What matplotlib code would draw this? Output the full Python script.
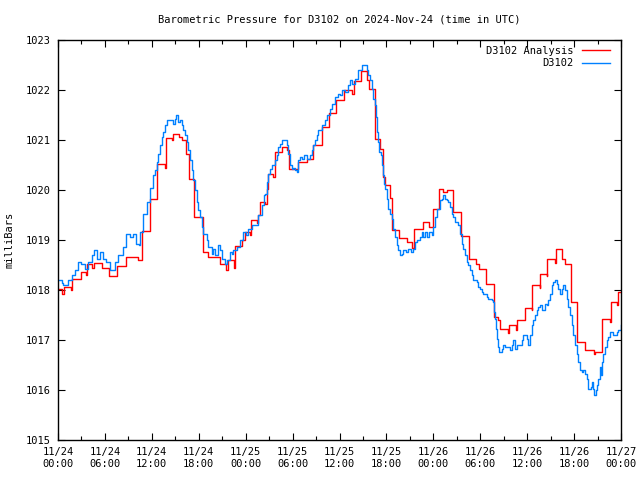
import matplotlib
matplotlib.use("Agg")
import matplotlib.pyplot as plt
from matplotlib.ticker import MultipleLocator, FixedLocator
import numpy as np

# ---- data (hours since 2024-11-24 00:00 UTC, pressure in mb) ----
analysis_hours = [0.0, 0.55, 0.75, 1.6, 1.75, 2.9, 3.55, 3.75, 4.4, 4.55, 5.6, 6.5, 7.5, 8.65,
                  10.25, 10.8, 11.8, 12.65, 13.65, 13.8, 14.6, 14.75, 15.5, 15.8, 16.4, 16.7,
                  17.4, 18.5, 19.2, 20.7, 21.5, 21.7, 22.45, 22.6, 23.5, 23.9, 24.5, 24.7,
                  25.4, 25.6, 25.8, 26.5, 26.7, 26.8, 27.55, 27.7, 28.6, 29.3, 29.5, 30.7,
                  31.8, 32.6, 33.7, 34.7, 35.6, 36.6, 37.55, 37.8, 38.7, 39.55, 39.8, 40.55,
                  41.2, 41.5, 41.8, 42.5, 42.7, 43.6, 44.6, 45.3, 45.5, 46.7, 47.5, 47.95,
                  48.7, 49.3, 49.7, 50.5, 51.5, 52.6, 53.5, 53.8, 54.7, 55.7, 56.3, 56.5,
                  57.5, 57.7, 58.6, 58.7, 59.7, 60.6, 60.65, 61.6, 61.7, 62.5, 62.6, 63.6,
                  63.7, 64.5, 64.8, 65.6, 66.4, 67.4, 68.5, 68.7, 69.6, 70.6, 70.7, 71.5,
                  71.65, 72.0]
analysis_mb = [1018.02, 1017.93, 1018.07, 1018.0, 1018.23, 1018.37, 1018.3, 1018.53, 1018.45,
               1018.55, 1018.45, 1018.28, 1018.48, 1018.67, 1018.6, 1019.18, 1019.82, 1020.52,
               1020.45, 1021.05, 1021.0, 1021.13, 1021.07, 1021.0, 1020.73, 1020.23, 1019.47,
               1018.77, 1018.67, 1018.53, 1018.4, 1018.6, 1018.45, 1018.88, 1019.0, 1019.17,
               1019.1, 1019.4, 1019.35, 1019.5, 1019.77, 1019.72, 1020.03, 1020.33, 1020.27,
               1020.77, 1020.87, 1020.8, 1020.43, 1020.57, 1020.62, 1020.9, 1021.27, 1021.55,
               1021.8, 1022.0, 1021.93, 1022.18, 1022.38, 1022.2, 1022.03, 1021.03, 1020.83,
               1020.27, 1020.1, 1019.85, 1019.2, 1019.05, 1018.97, 1018.85, 1019.22, 1019.37,
               1019.27, 1019.63, 1020.03, 1019.97, 1020.0, 1019.57, 1019.08, 1018.63, 1018.52,
               1018.42, 1018.13, 1017.47, 1017.4, 1017.23, 1017.15, 1017.3, 1017.2, 1017.4,
               1017.65, 1017.6, 1018.1, 1018.05, 1018.33, 1018.28, 1018.63, 1018.55, 1018.83,
               1018.63, 1018.53, 1017.77, 1016.97, 1016.8, 1016.72, 1016.77, 1017.43, 1017.37,
               1017.77, 1017.7, 1017.97, 1017.97]

station_hours = [0.0, 0.5, 0.7, 1.3, 1.8, 2.2, 2.6, 3.0, 3.4, 3.8, 4.3, 4.6, 5.0, 5.4, 5.8, 6.2,
                 6.6, 7.3, 7.7, 8.3, 8.7, 9.2, 9.6, 10.0, 10.3, 10.5, 10.9, 11.4, 11.8, 12.1,
                 12.4, 12.7, 12.8, 13.0, 13.3, 13.4, 13.7, 14.0, 14.6, 14.7, 15.0, 15.1, 15.4,
                 15.6, 15.8, 16.0, 16.2, 16.5, 16.6, 16.9, 17.1, 17.3, 17.5, 17.8, 17.9, 18.2,
                 18.4, 18.5, 19.0, 19.2, 19.7, 19.8, 20.1, 20.5, 20.7, 21.0, 21.4, 21.6, 22.0,
                 22.2, 22.4, 22.9, 23.3, 23.7, 24.0, 24.3, 24.8, 25.4, 25.6, 26.1, 26.3, 26.5,
                 26.7, 26.9, 27.1, 27.4, 27.7, 28.0, 28.1, 28.4, 28.6, 29.0, 29.3, 29.4, 29.7,
                 29.9, 30.0, 30.3, 30.6, 30.7, 30.9, 31.2, 31.5, 31.8, 32.2, 32.5, 32.6, 32.9,
                 33.1, 33.2, 33.8, 34.1, 34.4, 34.8, 35.0, 35.4, 35.8, 36.1, 36.3, 36.7, 37.1,
                 37.3, 37.6, 38.0, 38.4, 38.9, 39.3, 39.5, 39.6, 39.9, 40.2, 40.3, 40.5, 40.7,
                 40.8, 40.9, 41.0, 41.3, 41.4, 41.6, 41.7, 41.8, 42.1, 42.2, 42.5, 42.7, 42.8,
                 43.1, 43.4, 43.5, 43.7, 44.0, 44.1, 44.5, 44.8, 45.1, 45.4, 45.7, 45.9, 46.3,
                 46.5, 46.7, 46.9, 47.2, 47.4, 47.8, 47.9, 48.2, 48.5, 48.8, 49.1, 49.2, 49.5,
                 49.7, 49.9, 50.1, 50.4, 50.5, 50.8, 51.2, 51.4, 51.7, 51.8, 52.0, 52.3, 52.4,
                 52.7, 52.9, 53.1, 53.6, 53.7, 54.0, 54.2, 54.3, 54.8, 55.0, 55.5, 55.6, 55.8,
                 55.9, 56.0, 56.1, 56.3, 56.4, 56.8, 56.9, 57.2, 57.8, 58.1, 58.2, 58.4, 58.7,
                 59.3, 59.5, 60.0, 60.1, 60.4, 60.6, 60.7, 61.0, 61.3, 61.4, 61.6, 61.9, 62.3,
                 62.5, 62.7, 62.9, 63.2, 63.3, 63.6, 63.8, 64.0, 64.2, 64.4, 64.6, 64.8, 65.1,
                 65.2, 65.5, 65.7, 65.9, 66.1, 66.4, 66.5, 66.8, 67.0, 67.2, 67.4, 67.6, 67.8,
                 68.1, 68.3, 68.4, 68.6, 68.8, 68.9, 69.1, 69.3, 69.4, 69.6, 69.7, 69.9, 70.2,
                 70.3, 70.6, 71.0, 71.5, 71.6, 72.0]
station_mb = [1018.2, 1018.15, 1018.1, 1018.2, 1018.3, 1018.4, 1018.57, 1018.53, 1018.43, 1018.57,
              1018.7, 1018.8, 1018.63, 1018.77, 1018.63, 1018.57, 1018.4, 1018.57, 1018.7, 1018.87,
              1019.13, 1019.07, 1019.13, 1018.93, 1018.9, 1019.17, 1019.53, 1019.77, 1020.04,
              1020.3, 1020.4, 1020.57, 1020.73, 1020.9, 1021.07, 1021.17, 1021.3, 1021.4, 1021.4,
              1021.33, 1021.43, 1021.5, 1021.37, 1021.4, 1021.3, 1021.2, 1021.1, 1020.97, 1020.8,
              1020.6, 1020.4, 1020.2, 1020.0, 1019.77, 1019.6, 1019.47, 1019.27, 1019.13, 1019.0,
              1018.87, 1018.73, 1018.83, 1018.7, 1018.9, 1018.8, 1018.63, 1018.53, 1018.6,
              1018.77, 1018.73, 1018.8, 1018.87, 1019.0, 1019.17, 1019.1, 1019.23, 1019.3,
              1019.3, 1019.5, 1019.7, 1019.9, 1019.93, 1020.17, 1020.33, 1020.43, 1020.5, 1020.6,
              1020.7, 1020.87, 1020.93, 1021.0, 1021.0, 1020.9, 1020.73, 1020.5, 1020.43,
              1020.45, 1020.4, 1020.37, 1020.6, 1020.67, 1020.63, 1020.7, 1020.63, 1020.7,
              1020.8, 1020.9, 1021.0, 1021.1, 1021.2, 1021.3, 1021.4, 1021.5, 1021.63, 1021.73,
              1021.87, 1021.93, 1021.9, 1022.0, 1021.97, 1022.1, 1022.2, 1022.13, 1022.23,
              1022.4, 1022.5, 1022.5, 1022.4, 1022.3, 1022.2, 1022.03, 1021.83, 1021.7, 1021.47,
              1021.17, 1020.97, 1020.77, 1020.7, 1020.5, 1020.3, 1020.13, 1020.03, 1019.83,
              1019.63, 1019.53, 1019.43, 1019.23, 1019.07, 1018.9, 1018.8, 1018.7, 1018.73,
              1018.8, 1018.77, 1018.83, 1018.77, 1018.83, 1018.97, 1019.0, 1019.07, 1019.17,
              1019.07, 1019.17, 1019.07, 1019.17, 1019.1, 1019.27, 1019.47, 1019.63, 1019.8,
              1019.83, 1019.9, 1019.83, 1019.8, 1019.77, 1019.67, 1019.53, 1019.47, 1019.37,
              1019.3, 1019.13, 1018.93, 1018.83, 1018.7, 1018.57, 1018.5, 1018.4, 1018.3,
              1018.2, 1018.17, 1018.07, 1018.03, 1017.97, 1017.93, 1017.87, 1017.83, 1017.8,
              1017.77, 1017.57, 1017.43, 1017.23, 1017.03, 1016.87, 1016.77, 1016.83, 1016.9,
              1016.87, 1016.8, 1016.9, 1017.0, 1016.83, 1016.9, 1017.0, 1017.1, 1017.03,
              1016.9, 1017.1, 1017.3, 1017.4, 1017.5, 1017.6, 1017.67, 1017.7, 1017.6, 1017.73,
              1017.7, 1017.8, 1017.93, 1018.1, 1018.17, 1018.2, 1018.13, 1018.03, 1017.93,
              1018.03, 1018.1, 1018.0, 1017.83, 1017.67, 1017.5, 1017.3, 1017.1, 1016.9,
              1016.73, 1016.57, 1016.4, 1016.37, 1016.4, 1016.33, 1016.23, 1016.03, 1016.07,
              1016.17, 1016.03, 1015.9, 1016.0, 1016.1, 1016.23, 1016.47, 1016.3, 1016.57,
              1016.73, 1016.87, 1017.0, 1017.07, 1017.17, 1017.1, 1017.17, 1017.2, 1017.3]

x_tick_hours = [0, 6, 12, 18, 24, 30, 36, 42, 48, 54, 60, 66, 72]
x_tick_labels = ["11/24\n00:00", "11/24\n06:00", "11/24\n12:00", "11/24\n18:00",
                 "11/25\n00:00", "11/25\n06:00", "11/25\n12:00", "11/25\n18:00",
                 "11/26\n00:00", "11/26\n06:00", "11/26\n12:00", "11/26\n18:00",
                 "11/27\n00:00"]
y_ticks = [1015, 1016, 1017, 1018, 1019, 1020, 1021, 1022, 1023]

title = "Barometric Pressure for D3102 on 2024-Nov-24 (time in UTC)"
ylabel = "milliBars"
series_names = ["D3102 Analysis", "D3102"]
colors = ["#ff0000", "#0080ff"]

FONT = "DejaVu Sans Mono"
FS = 7.5

fig = plt.figure(figsize=(6.4, 4.8), dpi=100)
ax = fig.add_axes([58 / 640, 40 / 480, (621 - 58) / 640, 400 / 480])

ax.plot(analysis_hours, analysis_mb, drawstyle="steps-post", color=colors[0],
        lw=1.0, label=series_names[0])
ax.plot(station_hours, station_mb, drawstyle="steps-post", color=colors[1],
        lw=1.0, label=series_names[1])

ax.set_xlim(0, 72)
ax.set_ylim(1015, 1023)
ax.xaxis.set_major_locator(FixedLocator(x_tick_hours))
ax.xaxis.set_minor_locator(MultipleLocator(3))
ax.set_xticklabels(x_tick_labels, fontfamily=FONT, fontsize=FS, linespacing=1.3)
ax.set_yticks(y_ticks)
ax.set_yticklabels([str(v) for v in y_ticks], fontfamily=FONT, fontsize=FS)
ax.tick_params(axis="both", which="major", direction="in", length=5, width=0.8,
               top=True, right=True, pad=5, colors="black")
ax.tick_params(axis="x", which="minor", direction="in", length=3, width=0.8,
               top=True, bottom=True)
for s in ax.spines.values():
    s.set_linewidth(1.0)
    s.set_color("black")

fig.text(339 / 640, 1 - 20 / 480, title, ha="center", va="center",
         fontfamily=FONT, fontsize=FS)
fig.text(10 / 640, 0.5, ylabel, rotation=90, ha="center", va="center",
         fontfamily=FONT, fontsize=FS)

leg = ax.legend(loc="upper right", bbox_to_anchor=(0.987, 0.995), frameon=False,
                markerfirst=False, prop={"family": FONT, "size": FS},
                handlelength=2.7, borderaxespad=0.0, borderpad=0.35,
                labelspacing=0.25, handletextpad=0.8)

fig.savefig("out.png", dpi=100)
